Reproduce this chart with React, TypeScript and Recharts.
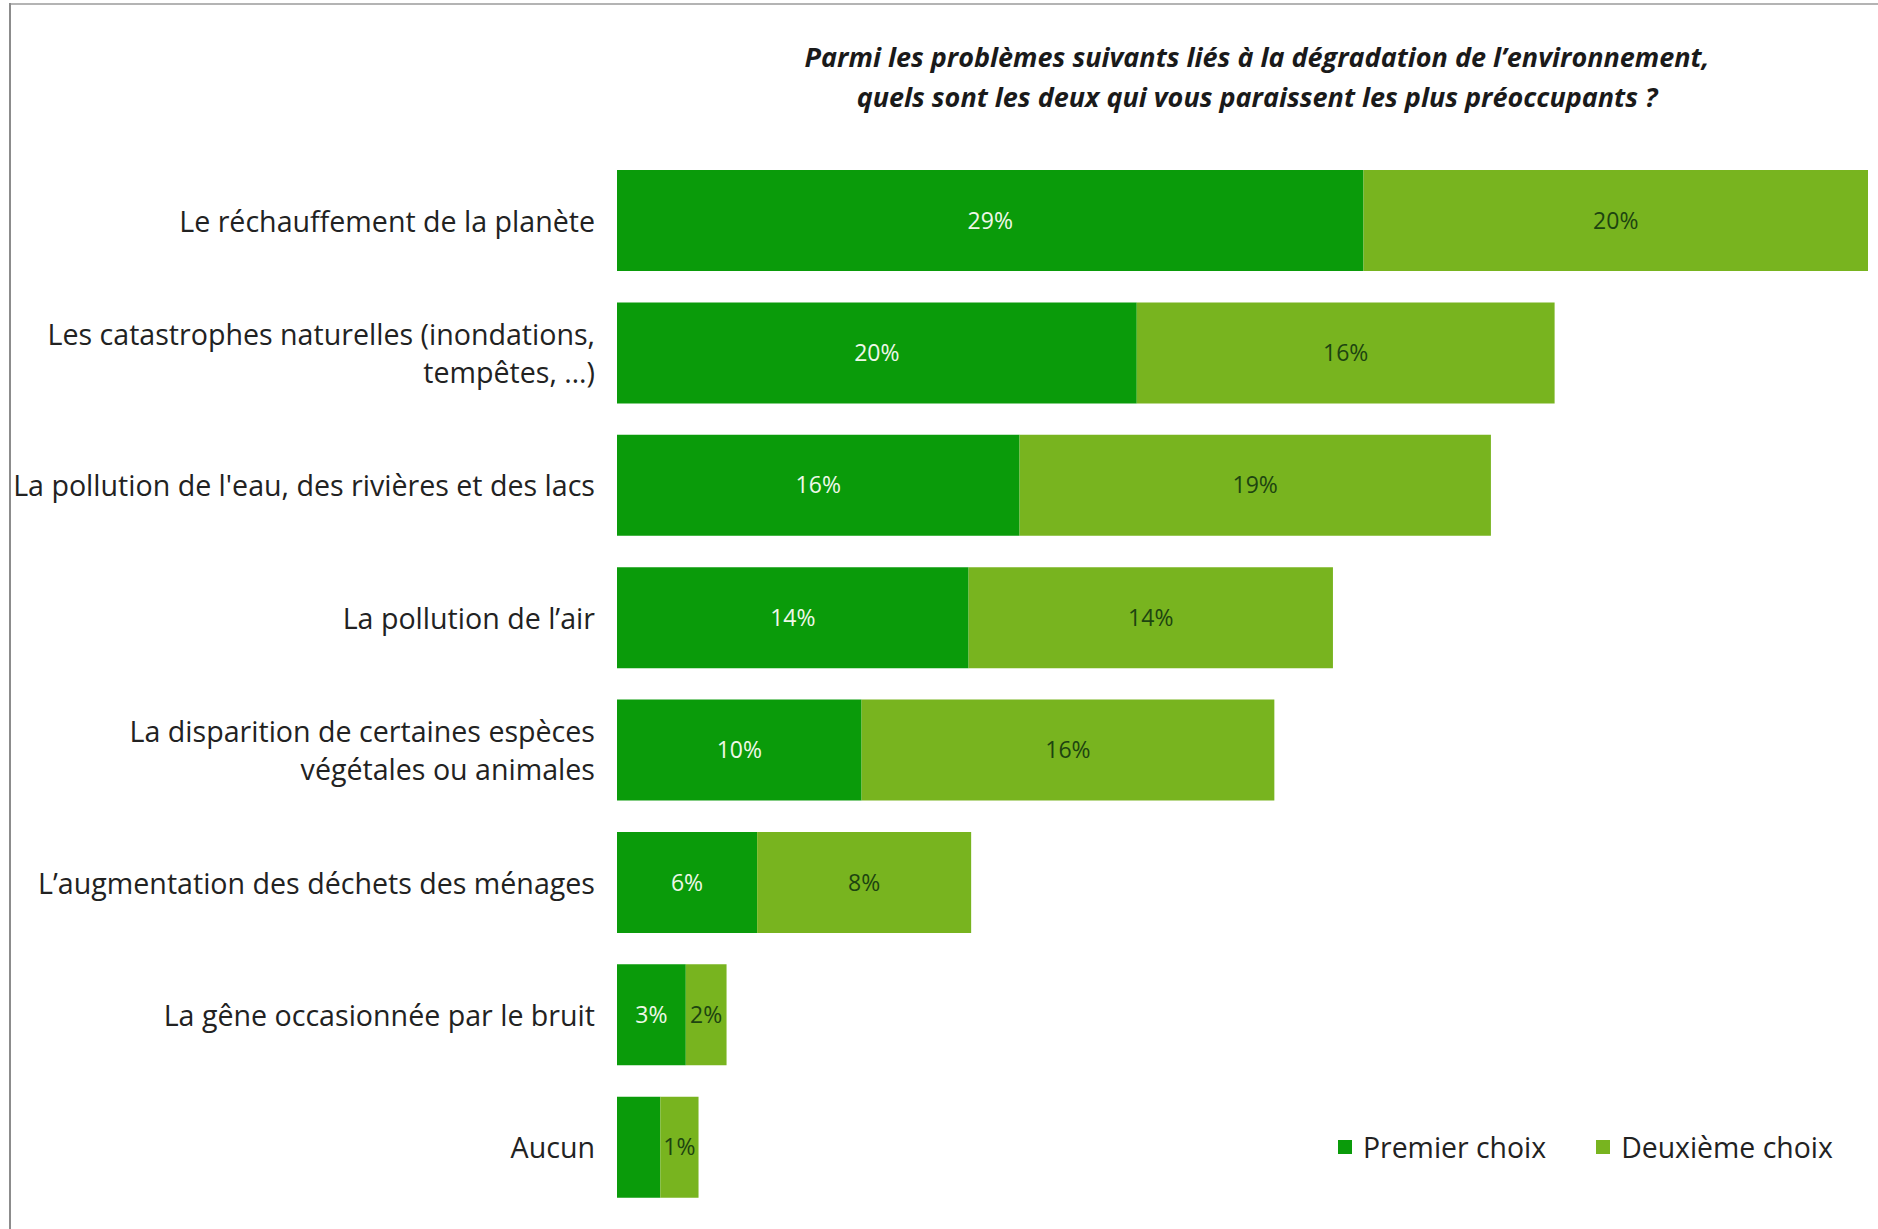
import { BarChart, Bar, XAxis, YAxis, LabelList } from "recharts";

const categories = [
  "Le réchauffement de la planète",
  "Les catastrophes naturelles (inondations,\ntempêtes, …)",
  "La pollution de l'eau, des rivières et des lacs",
  "La pollution de l’air",
  "La disparition de certaines espèces\nvégétales ou animales",
  "L’augmentation des déchets des ménages",
  "La gêne occasionnée par le bruit",
  "Aucun",
];

// bar lengths (labels are the rounded figures shown)
const premierChoix = [29.3, 20.4, 15.8, 13.8, 9.6, 5.5, 2.7, 1.7];
const deuxiemeChoix = [19.8, 16.4, 18.5, 14.3, 16.2, 8.4, 1.6, 1.5];
const premierLabels = ["29%", "20%", "16%", "14%", "10%", "6%", "3%", ""];
const deuxiemeLabels = ["20%", "16%", "19%", "14%", "16%", "8%", "2%", "1%"];

const DARK = "#0a9b0a";
const LIGHT = "#78b41f";
const FONT = "'Open Sans', sans-serif";

const data = categories.map((name, i) => ({
  name,
  premier: premierChoix[i],
  deuxieme: deuxiemeChoix[i],
  premierLabel: premierLabels[i],
  deuxiemeLabel: deuxiemeLabels[i],
}));

function CategoryTick(props: any) {
  const { x, y, payload } = props;
  const lines = String(payload.value).split("\n");
  const lh = 38;
  const start = -((lines.length - 1) * lh) / 2;
  return (
    <text x={x - 14} y={y} textAnchor="end" fill="#222" fontSize={28.6} fontFamily={FONT}>
      {lines.map((l, i) => (
        <tspan key={i} x={x - 14} dy={i === 0 ? start : lh} dominantBaseline="central">
          {l}
        </tspan>
      ))}
    </text>
  );
}

function ChartLegend() {
  const items = [
    { label: "Premier choix", color: DARK },
    { label: "Deuxième choix", color: LIGHT },
  ];
  return (
    <div
      style={{
        position: "absolute",
        left: 1338,
        top: 1128,
        display: "flex",
        alignItems: "center",
        fontFamily: FONT,
        fontSize: 28.4,
        lineHeight: "38px",
        color: "#222",
      }}
    >
      {items.map((it, i) => (
        <div key={it.label} style={{ display: "flex", alignItems: "center", marginLeft: i ? 50 : 0 }}>
          <span style={{ width: 14, height: 14, background: it.color, display: "inline-block", marginRight: 11 }} />
          <span>{it.label}</span>
        </div>
      ))}
    </div>
  );
}

export default function App() {
  return (
    <div
      style={{
        position: "absolute",
        left: 0,
        top: 0,
        width: 1878,
        height: 1229,
        background: "#fff",
        overflow: "hidden",
      }}
    >
      <div style={{ position: "absolute", left: 9, top: 3, right: 0, height: 2, background: "#b4b4b4" }} />
      <div style={{ position: "absolute", left: 9, top: 3, width: 2, bottom: 0, background: "#8c8c8c" }} />
      <div
        style={{
          position: "absolute",
          left: 657,
          width: 1200,
          top: 37,
          textAlign: "center",
          fontFamily: FONT,
          fontStyle: "italic",
          fontWeight: 700,
          fontSize: 27,
          lineHeight: "40px",
          color: "#1a1a1a",
        }}
      >
        Parmi les problèmes suivants liés à la dégradation de l’environnement,
        <br />
        quels sont les deux qui vous paraissent les plus préoccupants ?
      </div>
      <BarChart
        width={1878}
        height={1229}
        data={data}
        layout="vertical"
        margin={{ top: 154, right: 10, bottom: 16, left: 0 }}
        barSize={101}
      >
        <XAxis type="number" domain={[0, 49.1]} hide />
        <YAxis
          type="category"
          dataKey="name"
          width={617}
          axisLine={false}
          tickLine={false}
          tick={<CategoryTick />}
          interval={0}
        />
        <Bar dataKey="premier" stackId="a" fill={DARK} isAnimationActive={false}>
          <LabelList dataKey="premierLabel" position="center" fill="#eef8e8" fontSize={23} fontFamily={FONT} />
        </Bar>
        <Bar dataKey="deuxieme" stackId="a" fill={LIGHT} isAnimationActive={false}>
          <LabelList dataKey="deuxiemeLabel" position="center" fill="#1d4410" fontSize={23} fontFamily={FONT} />
        </Bar>
      </BarChart>
      <ChartLegend />
    </div>
  );
}
